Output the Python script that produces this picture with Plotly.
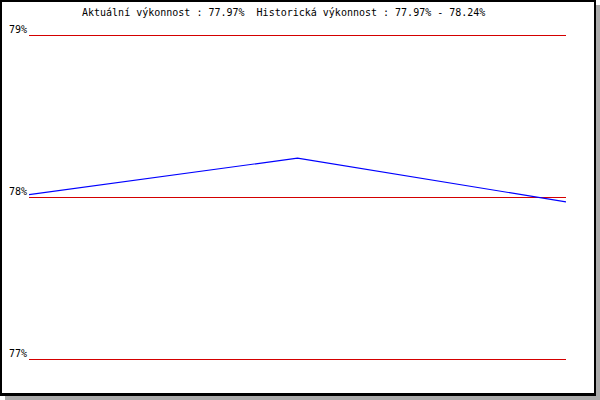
import plotly.graph_objects as go

# Data
points = [0, 1, 2]
performance = [78.015, 78.24, 77.97]
tick_values = [77, 78, 79]
tick_labels = ["77%", "78%", "79%"]
title_text = "Aktuální výkonnost : 77.97%  Historická výkonnost : 77.97% - 78.24%"

W, H = 600, 400
L, R, T, B = 29, 566, 35, 359  # plot area in pixels
pw, ph = R - L, B - T

def px(x):
    return (x - L) / pw

def py(y):
    return (B - y) / ph

fig = go.Figure()
fig.add_trace(go.Scatter(
    x=points, y=performance, mode="lines",
    line=dict(color="#0000ff", width=1.2),
    hoverinfo="skip", showlegend=False, cliponaxis=False,
))

shapes = [
    # shadow
    dict(type="rect", xref="paper", yref="paper", x0=px(5), x1=px(600), y0=py(400), y1=py(5),
         fillcolor="#aaaaaa", line=dict(width=0), layer="below"),
    # black frame
    dict(type="rect", xref="paper", yref="paper", x0=px(0), x1=px(596), y0=py(396), y1=py(0),
         fillcolor="#000000", line=dict(width=0), layer="below"),
    # white panel
    dict(type="rect", xref="paper", yref="paper", x0=px(2), x1=px(594), y0=py(393), y1=py(2),
         fillcolor="#ffffff", line=dict(width=0), layer="below"),
]
# gridlines at tick values (drawn as crisp 1px red lines)
for v in tick_values:
    frac = (v - tick_values[0]) / (tick_values[-1] - tick_values[0])
    shapes.append(dict(type="line", xref="paper", yref="paper", x0=0, x1=1,
                       y0=frac - 0.5 / ph, y1=frac - 0.5 / ph,
                       line=dict(color="#d40000", width=1), layer="below"))

fig.update_layout(
    width=W, height=H,
    margin=dict(l=L, r=W - R, t=T, b=H - B, pad=0),
    paper_bgcolor="#ffffff",
    plot_bgcolor="rgba(0,0,0,0)",
    shapes=shapes,
    font=dict(family="DejaVu Sans Mono", size=10, color="#000000"),
    xaxis=dict(range=[0, 2], showgrid=False, zeroline=False, showticklabels=False,
               showline=False, ticks="", automargin=False),
    yaxis=dict(range=[77, 79], tickvals=tick_values, ticktext=tick_labels,
               showgrid=False, zeroline=False, automargin=False,
               showline=False, ticks="", ticklabelshift=-6, ticklabelstandoff=1,
               tickfont=dict(family="DejaVu Sans Mono", size=10, color="#000000")),
    annotations=[dict(
        text=title_text, xref="paper", yref="paper", x=px(283), y=py(13),
        xanchor="center", yanchor="middle", showarrow=False,
        font=dict(family="DejaVu Sans Mono", size=10, color="#000000"),
    )],
)

fig.write_html(
    "out.html",
    config={"displayModeBar": False, "staticPlot": True},
    post_script="document.body.style.margin='0';document.body.style.overflow='hidden';",
)
